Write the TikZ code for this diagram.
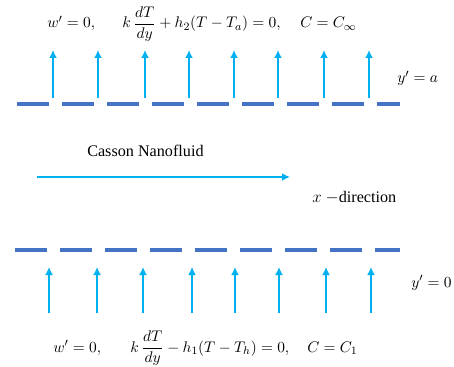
\documentclass[tikz,border=0pt]{standalone}
\usepackage{amsmath,amssymb}
\usepackage{fontspec}
\usepackage{tikz}
\usetikzlibrary{arrows.meta}
\newfontfamily\textserif{Liberation Serif}
\definecolor{flowcyan}{RGB}{0,176,240}
\definecolor{wallblue}{RGB}{68,114,196}

\begin{document}
\begin{tikzpicture}[x=0.025cm, y=-0.025cm, every node/.style={font=\fontsize{11}{13}\selectfont, inner sep=0pt},
	>={Latex[length=2mm, width=2mm]},
	wall/.style={wallblue, line width=2.8pt, dash pattern=on 22.8pt off 9.2pt},
	inflow/.style={->, flowcyan, line width=1.3pt}]
	\useasboundingbox (0,0) rectangle (454,367);
	% upper wall y' = a
	\draw[wall] (17,104) -- (400,104);
	\foreach \x in {53,98,145,189,234,278,324,369}
		\draw[inflow] (\x,98) -- (\x,50);
	\node[anchor=base west] (topw) at (47,28) {$w' = 0,$};
	\node[anchor=base west] (topT) at (122,28) {$k\,\dfrac{dT}{dy} + h_2(T - T_a) = 0,$};
	\node[anchor=base west] (topC) at (300,28) {$C = C_\infty$};
	\node[anchor=base west] (ya) at (397,83) {$y' = a$};
	% fluid and flow direction
	\node[anchor=base west, font=\textserif\fontsize{11.5}{13}\selectfont] (fluid) at (87,157) {Casson Nanofluid};
	\draw[inflow] (37,177) -- (290,177);
	\node[anchor=base west, font=\textserif\fontsize{11.5}{13}\selectfont] (xdir) at (312,203) {$x$ $-$direction};
	% lower wall y' = 0
	\draw[wall] (15,250) -- (400,250);
	\foreach \x in {49,97,143,192,235,279,326,371}
		\draw[inflow] (\x,313) -- (\x,267);
	\node[anchor=base west] (y0) at (411,287) {$y' = 0$};
	\node[anchor=base west] (botw) at (53,352) {$w' = 0,$};
	\node[anchor=base west] (botT) at (130,352) {$k\,\dfrac{dT}{dy} - h_1(T - T_h) = 0,$};
	\node[anchor=base west] (botC) at (307,352) {$C = C_1$};
\end{tikzpicture}
\end{document}
